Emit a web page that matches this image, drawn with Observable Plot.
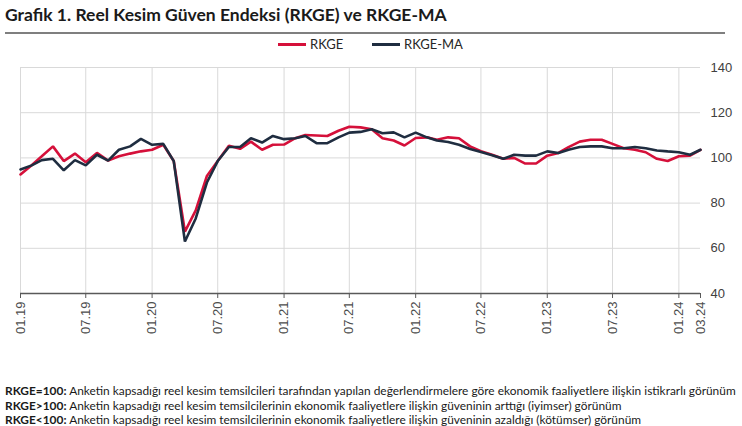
<!DOCTYPE html>
<html><head><meta charset="utf-8">
<script src="https://cdn.jsdelivr.net/npm/d3@7"></script>
<script src="https://cdn.jsdelivr.net/npm/@observablehq/plot@0.6"></script>
<style>
body{margin:0;background:#fff;width:742px;height:426px;position:relative;overflow:hidden;font-family:Lato,"Open Sans",sans-serif;color:#1a1a1a}
#title{position:absolute;left:5px;top:4px;font-weight:bold;font-size:17.5px;white-space:nowrap}
#rule{position:absolute;left:5px;top:32px;width:720px;height:2px;background:#7f7f7f}
.leg{position:absolute;top:36px;font-size:13px;white-space:nowrap;display:flex;align-items:center;height:16px;color:#262626}
.sw{display:inline-block;width:28px;height:3px;margin-right:4px}
#chart{position:absolute;left:0;top:54px}
#notes{position:absolute;left:5px;top:384px;font-size:11.9px;line-height:14.6px;white-space:nowrap}
</style></head>
<body>
<div id="title">Grafik 1. Reel Kesim Güven Endeksi (RKGE) ve RKGE-MA</div>
<div id="rule"></div>
<div class="leg" style="left:278px"><span class="sw" style="background:#d5103a"></span>RKGE</div>
<div class="leg" style="left:372px"><span class="sw" style="background:#1f2d40"></span>RKGE-MA</div>
<div id="chart"></div>
<div id="notes">
<div><b>RKGE=100:</b> Anketin kapsadığı reel kesim temsilcileri tarafından yapılan değerlendirmelere göre ekonomik faaliyetlere ilişkin istikrarlı görünüm</div>
<div><b>RKGE&gt;100:</b> Anketin kapsadığı reel kesim temsilcilerinin ekonomik faaliyetlere ilişkin güveninin arttığı (iyimser) görünüm</div>
<div><b>RKGE&lt;100:</b> Anketin kapsadığı reel kesim temsilcilerinin ekonomik faaliyetlere ilişkin güveninin azaldığı (kötümser) görünüm</div>
</div>
<script>
const firstMonth = "01.19";
const lastMonth = "03.24";
const tickLabels = ["01.19","07.19","01.20","07.20","01.21","07.21","01.22","07.22","01.23","07.23","01.24","03.24"];
const gridLabels = ["01.19","07.19","01.20","07.20","01.21","07.21","01.22","07.22","01.23","07.23","01.24"];
const rkge = [92.7,96.8,100.7,105.1,98.6,101.9,98.1,102.2,98.8,100.7,
  101.9,102.9,103.6,105.8,98.6,67.4,76.8,92.0,98.6,105.4,
  104.0,107.2,103.6,105.8,105.9,108.7,110.1,109.9,109.7,112.0,
  113.8,113.5,112.7,108.7,107.7,105.5,108.8,109.1,108.0,109.1,
  108.7,105.1,103.0,101.4,99.6,100.0,97.5,97.5,101.0,102.2,
  104.8,107.2,108.0,108.0,106.2,104.3,103.6,102.5,99.6,98.6,
  100.7,101.0,103.6];
const rkgeMA = [94.9,96.7,99.0,99.6,94.5,99.0,96.7,101.4,98.8,103.6,
  105.1,108.4,105.8,106.2,98.6,63.0,73.2,89.1,98.6,104.8,
  104.8,108.7,106.8,109.7,108.3,108.7,109.7,106.5,106.5,109.1,
  111.2,111.5,112.7,110.9,111.3,109.1,111.2,109.1,107.7,107.0,
  105.8,103.9,102.6,101.2,99.6,101.4,101.0,101.0,102.9,102.2,
  103.6,104.8,105.1,105.1,104.3,104.3,104.8,104.3,103.3,102.9,
  102.5,101.4,103.6];
const yTicks = [40,60,80,100,120,140];

const parse = d3.utcParse("%m.%y");
const fmt = d3.utcFormat("%m.%y");
const months = d3.utcMonth.range(parse(firstMonth), d3.utcMonth.offset(parse(lastMonth), 1));
const data = months.flatMap((d, i) => [
  {date: d, value: rkge[i], series: "RKGE"},
  {date: d, value: rkgeMA[i], series: "RKGE-MA"}
]);

const chart = Plot.plot({
  width: 742,
  height: 289,
  marginTop: 13,
  marginBottom: 50,
  marginLeft: 20,
  marginRight: 42,
  style: {fontFamily: "'Liberation Sans', Arial, sans-serif", background: "#fff"},
  x: {type: "utc", domain: [parse(firstMonth), parse(lastMonth)]},
  y: {domain: [40, 140]},
  color: {domain: ["RKGE", "RKGE-MA"], range: ["#d5103a", "#1f2d40"]},
  marks: [
    Plot.gridY(yTicks.filter(t => t > 40), {stroke: "#d9d9d9", strokeOpacity: 1, strokeWidth: 1}),
    Plot.gridX(gridLabels.map(parse), {stroke: "#d9d9d9", strokeOpacity: 1, strokeWidth: 1}),
    Plot.ruleY([40], {stroke: "#595959", strokeWidth: 1.5}),
    Plot.axisX(tickLabels.map(parse), {tickFormat: fmt, tickRotate: -90, tickSize: 5, tickPadding: 3, fontSize: 13, fill: "#4d4d4d", stroke: "#595959", label: null}),
    Plot.axisY(yTicks, {anchor: "right", tickSize: 0, tickPadding: 10, fontSize: 13, fill: "#404040", label: null}),
    Plot.line(data, {x: "date", y: "value", stroke: "series", z: "series", strokeWidth: 2.6, strokeLinejoin: "miter"})
  ]
});
document.getElementById("chart").appendChild(chart);
</script>
</body></html>
